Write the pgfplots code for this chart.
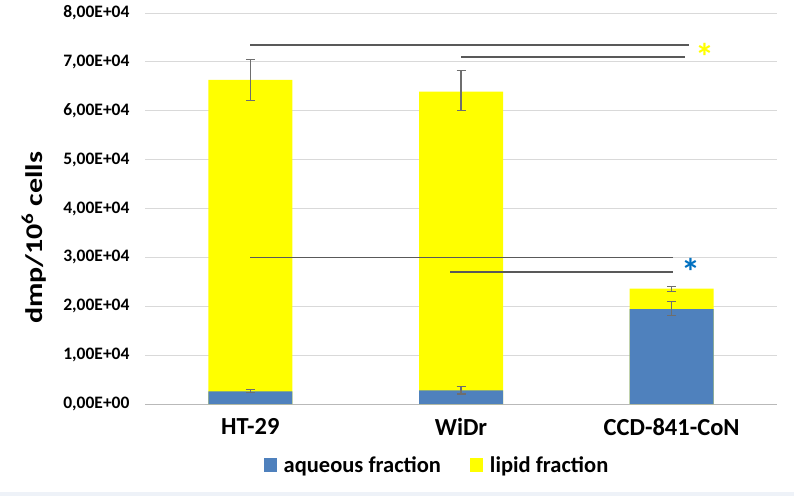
\documentclass[border=0pt]{standalone}
\usepackage{fontspec}
\setmainfont{Carlito}
\usepackage{graphicx}
\usepackage{pgfplots}
\usepackage{pgfplotstable}
\pgfplotsset{compat=1.18}
\definecolor{aqblue}{RGB}{79,129,189}
\definecolor{lipyel}{RGB}{255,255,0}
\definecolor{gridc}{RGB}{217,217,217}
\definecolor{errc}{RGB}{110,110,110}
\definecolor{sigc}{RGB}{89,89,89}
\definecolor{starblue}{RGB}{0,112,192}
\definecolor{bandc}{RGB}{238,242,248}

\pgfplotstableread{
x total tep tem aq aep aem
0 66300 4100 4200 2600 300 300
1 63900 4400 3900 2800 750 750
2 23600 500 500 19400 1500 1200
}\datatable

\begin{document}
\begin{tikzpicture}
\path[use as bounding box] (0,0) rectangle (794pt,496pt);
\fill[bandc] (0,0) rectangle (794pt,4pt);
\begin{axis}[
  at={(145pt,92pt)}, anchor=south west,
  scale only axis, width=632pt, height=391pt,
  ybar, bar width=84pt,
  xmin=-0.5, xmax=2.5, ymin=0, ymax=80000,
  xtick={0,1,2}, xticklabels={HT-29,WiDr,CCD-841-CoN},
  ytick={0,10000,20000,30000,40000,50000,60000,70000,80000},
  yticklabels={{0,00E+00},{1,00E+04},{2,00E+04},{3,00E+04},{4,00E+04},{5,00E+04},{6,00E+04},{7,00E+04},{8,00E+04}},
  scaled y ticks=false,
  ymajorgrids, grid style={gridc, line width=1pt},
  axis x line*=bottom, axis y line*=left,
  x axis line style={color=gray!55, line width=1pt, -},
  y axis line style={draw=none},
  major tick length=0pt,
  tick style={draw=none},
  yticklabel style={font=\fontsize{17.5}{20}\selectfont\bfseries, xshift=-12pt},
  xticklabel style={font=\fontsize{24.5}{26}\selectfont\bfseries, yshift=-11pt},
  ylabel={\scalebox{1.25}[1]{dmp/10\textsuperscript{6} cells}},
  ylabel style={font=\fontsize{24}{26}\selectfont\bfseries, at={(axis description cs:-0.176,0.425)}, anchor=center, rotate=0},
  legend style={at={(axis description cs:0.462,-0.156)}, anchor=center, draw=none, fill=none,
    legend columns=2, font=\fontsize{22.5}{24}\selectfont\bfseries,
    /tikz/every even column/.append style={column sep=27pt}},
  clip=false,
]
\addplot[fill=lipyel, draw=none, bar shift=0pt, forget plot,
  error bars/.cd, y dir=both, y explicit,
  error bar style={errc, line width=1.1pt},
  error mark options={rotate=90, mark size=4.5pt, errc, line width=1.1pt}]
  table[x=x, y=total, y error plus=tep, y error minus=tem]{\datatable};
\addplot[fill=aqblue, draw=none, bar shift=0pt, forget plot,
  error bars/.cd, y dir=both, y explicit,
  error bar style={errc, line width=1.1pt},
  error mark options={rotate=90, mark size=4.5pt, errc, line width=1.1pt}]
  table[x=x, y=aq, y error plus=aep, y error minus=aem]{\datatable};
\addlegendimage{legend image code/.code={\fill[aqblue, draw=none] (0pt,-7pt) rectangle (13pt,7pt); \path[draw=none, fill=none] (0pt,-1pt) rectangle (18pt,1pt);}}
\addlegendentry{aqueous fraction}
\addlegendimage{legend image code/.code={\fill[lipyel, draw=none] (0pt,-7pt) rectangle (13pt,7pt); \path[draw=none, fill=none] (0pt,-1pt) rectangle (18pt,1pt);}}
\addlegendentry{lipid fraction}
\draw[sigc, line width=1.6pt] (axis cs:0,73500) -- (axis cs:2.08,73500);
\draw[sigc, line width=1.6pt] (axis cs:1,71000) -- (axis cs:2.065,71000);
\draw[sigc, line width=1.6pt] (axis cs:0,30000) -- (axis cs:2.005,30000);
\draw[sigc, line width=1.6pt] (axis cs:0.95,27000) -- (axis cs:2.005,27000);
\node[text=lipyel, font=\fontsize{38}{38}\selectfont\bfseries] at (axis cs:2.16,71000) {*};
\node[text=starblue, font=\fontsize{38}{38}\selectfont\bfseries] at (axis cs:2.09,27000) {*};
\end{axis}
\end{tikzpicture}
\end{document}
